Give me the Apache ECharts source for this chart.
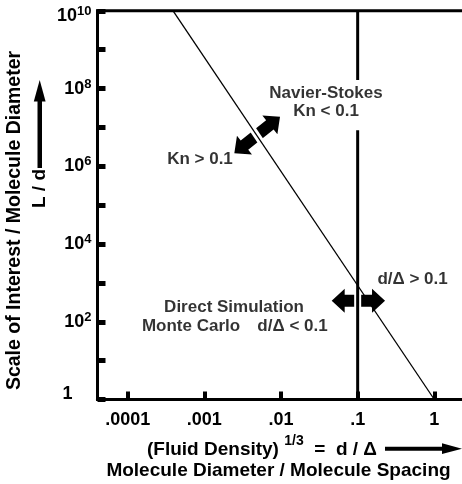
<!DOCTYPE html>
<html><head><meta charset="utf-8">
<script src="https://cdn.jsdelivr.net/npm/echarts@6/dist/echarts.min.js"></script>
<style>html,body{margin:0;padding:0;background:#fff}#c{width:462px;height:484px}</style>
</head><body><div id="c"></div>
<script>
// ---- data ----
const xTickValues = [1e-4, 1e-3, 1e-2, 1e-1, 1];
const xTickLabels = ['.0001', '.001', '.01', '.1', '1'];
const yTickValues = [1, 1e1, 1e2, 1e3, 1e4, 1e5, 1e6, 1e7, 1e8, 1e9, 1e10];
const yLabelValues = [1, 1e2, 1e4, 1e6, 1e8, 1e10];
// Knudsen boundary (L/d falls ~3 decades per decade of d/Δ)
const boundaryX = [Math.pow(10, -3.408), 1];
const boundaryY = [1e10, 1];
// d/Δ = 0.1 limit, broken where the Navier-Stokes text sits
const limitX = 0.1;
const limitY = [1e10, Math.pow(10, 8.22), '-', Math.pow(10, 6.93), 1];
// annotations (data space)
const noteTexts = ['Navier-Stokes\nKn < 0.1', 'Kn > 0.1', 'd/Δ > 0.1', 'Direct Simulation', 'Monte Carlo', 'd/Δ < 0.1'];
const noteX = [Math.pow(10, -1.413), Math.pow(10, -3.057), Math.pow(10, -0.284), Math.pow(10, -2.613), Math.pow(10, -3.174), Math.pow(10, -1.85)];
const noteY = [Math.pow(10, 7.654), Math.pow(10, 6.187), Math.pow(10, 3.10), Math.pow(10, 2.367), Math.pow(10, 1.878), Math.pow(10, 1.878)];
// double arrows: start, end, and crossing-line segment (for white gap)
const arrowStart = [[Math.pow(10, -2.609), Math.pow(10, 6.334)], [Math.pow(10, -1.339), Math.pow(10, 2.542)]];
const arrowEnd = [[Math.pow(10, -2.013), Math.pow(10, 7.276)], [Math.pow(10, -0.643), Math.pow(10, 2.542)]];
const arrowGapA = [[Math.pow(10, -2.45), Math.pow(10, 7.188)], [0.1, Math.pow(10, 2.2)]];
const arrowGapB = [[Math.pow(10, -2.18), Math.pow(10, 6.396)], [0.1, Math.pow(10, 2.9)]];

const FONT = "'Liberation Sans', Arial, Helvetica, sans-serif";
const chart = echarts.init(document.getElementById('c'));

function expOf(v) { return Math.round(Math.log10(v)); }
const BOLD = { fontFamily: FONT, fontWeight: 'bold', color: '#000' };

chart.setOption({
  animation: false,
  backgroundColor: '#fff',
  grid: { left: 97.5, top: 10.8, right: -20, bottom: 84.5, show: true, borderWidth: 3, borderColor: '#000', outerBoundsMode: 'none', containLabel: false },
  xAxis: {
    type: 'log', logBase: 10,
    min: Math.pow(10, -4.394), max: Math.pow(10, 0.622),
    splitLine: { show: false },
    axisLine: { lineStyle: { color: '#000', width: 3 } },
    axisTick: { inside: true, length: 8, lineStyle: { color: '#000', width: 4 }, customValues: xTickValues },
    axisLabel: {
      customValues: xTickValues, margin: 12,
      color: '#000', fontFamily: FONT, fontSize: 18, fontWeight: 'bold',
      formatter: v => xTickLabels[xTickValues.findIndex(t => expOf(t) === expOf(v))] || ''
    }
  },
  yAxis: {
    type: 'log', logBase: 10, min: 1, max: 1e10,
    splitLine: { show: false },
    axisLine: { lineStyle: { color: '#000', width: 3 } },
    axisTick: { inside: true, length: 8, lineStyle: { color: '#000', width: 5 }, customValues: yTickValues },
    axisLabel: {
      customValues: yLabelValues, margin: 6,
      color: '#000', fontFamily: FONT, fontSize: 18, fontWeight: 'bold',
      formatter: v => {
        const e = expOf(v);
        if (e === 0) return '{one|1}\n{gap| }';
        if (e === 10) return '{gap| }\n{b|10}{s|' + e + '}';
        return '{b|10}{s|' + e + '}';
      },
      rich: {
        one: Object.assign({ fontSize: 18, lineHeight: 22, padding: [0, 19, 0, 0] }, BOLD),
        gap: { fontSize: 2, lineHeight: 11 },
        b: Object.assign({ fontSize: 18, lineHeight: 22 }, BOLD),
        s: Object.assign({ fontSize: 13, lineHeight: 16, verticalAlign: 'top' }, BOLD)
      }
    }
  },
  series: [
    {
      type: 'custom', z: 1, silent: true,
      encode: { x: [0, 2, 4, 6], y: [1, 3, 5, 7] },
      data: arrowStart.map((s, i) => [s[0], s[1], arrowEnd[i][0], arrowEnd[i][1], arrowGapA[i][0], arrowGapA[i][1], arrowGapB[i][0], arrowGapB[i][1]]),
      renderItem: (params, api) => {
        const p1 = api.coord([api.value(0), api.value(1)]);
        const p2 = api.coord([api.value(2), api.value(3)]);
        const g1 = api.coord([api.value(4), api.value(5)]);
        const g2 = api.coord([api.value(6), api.value(7)]);
        const dx = p2[0] - p1[0], dy = p2[1] - p1[1];
        const len = Math.hypot(dx, dy);
        const ux = dx / len, uy = dy / len, nx = -uy, ny = ux;
        const h = 13, hw = 12, sw = 6;
        const P = (base, along, side) => [base[0] + ux * along + nx * side, base[1] + uy * along + ny * side];
        const pts = [
          p1, P(p1, h, hw), P(p1, h, sw), P(p2, -h, sw), P(p2, -h, hw), p2,
          P(p2, -h, -hw), P(p2, -h, -sw), P(p1, h, -sw), P(p1, h, -hw)
        ];
        return {
          type: 'group',
          children: [
            { type: 'polygon', shape: { points: pts }, style: { fill: '#000' } },
            { type: 'line', shape: { x1: g1[0], y1: g1[1], x2: g2[0], y2: g2[1] }, style: { stroke: '#fff', lineWidth: 7 } }
          ]
        };
      }
    },
    {
      type: 'line', name: 'boundary', z: 3, silent: true, symbol: 'none',
      lineStyle: { color: '#000', width: 1.3 },
      data: boundaryX.map((x, i) => [x, boundaryY[i]])
    },
    {
      type: 'line', name: 'limit', z: 3, silent: true, symbol: 'none', connectNulls: false,
      lineStyle: { color: '#000', width: 3 },
      data: limitY.map(y => y === '-' ? ['-', '-'] : [limitX, y])
    },
    {
      type: 'scatter', z: 5, silent: true, symbolSize: 1,
      itemStyle: { color: 'rgba(0,0,0,0)' },
      label: { show: true, position: 'inside', color: '#000', fontFamily: FONT, fontSize: 17, fontWeight: 'bold', lineHeight: 18, align: 'center', verticalAlign: 'middle' },
      data: noteTexts.map((t, i) => ({ value: [noteX[i], noteY[i]], label: { formatter: t } }))
    }
  ],
  graphic: [
    { type: 'text', x: 15, y: 220.5, rotation: Math.PI / 2,
      style: { text: 'Scale of Interest / Molecule Diameter', font: 'bold 19.5px ' + FONT, fill: '#000', align: 'center', verticalAlign: 'middle' } },
    { type: 'text', x: 40, y: 188.5, rotation: Math.PI / 2,
      style: { text: 'L / d', font: 'bold 19px ' + FONT, fill: '#000', align: 'center', verticalAlign: 'middle' } },
    { type: 'rect', shape: { x: 37.5, y: 98, width: 4.5, height: 70 }, style: { fill: '#000' } },
    { type: 'polygon', shape: { points: [[39.7, 80], [33.8, 101.5], [45.6, 101.5]] }, style: { fill: '#000' } },
    { type: 'text', x: 147, y: 450,
      style: { text: '(Fluid Density) {sup|1/3}  =  d / Δ', font: 'bold 19px ' + FONT, fill: '#000', align: 'left', verticalAlign: 'middle',
        rich: { sup: { font: 'bold 14px ' + FONT, fill: '#000', padding: [0, 0, 18, 0] } } } },
    { type: 'rect', shape: { x: 385, y: 446.7, width: 60, height: 4 }, style: { fill: '#000' } },
    { type: 'polygon', shape: { points: [[442, 443.3], [462, 448.7], [442, 454]] }, style: { fill: '#000' } },
    { type: 'text', x: 278.5, y: 471,
      style: { text: 'Molecule Diameter / Molecule Spacing', font: 'bold 19px ' + FONT, fill: '#000', align: 'center', verticalAlign: 'middle' } }
  ]
});
</script>
</body></html>
